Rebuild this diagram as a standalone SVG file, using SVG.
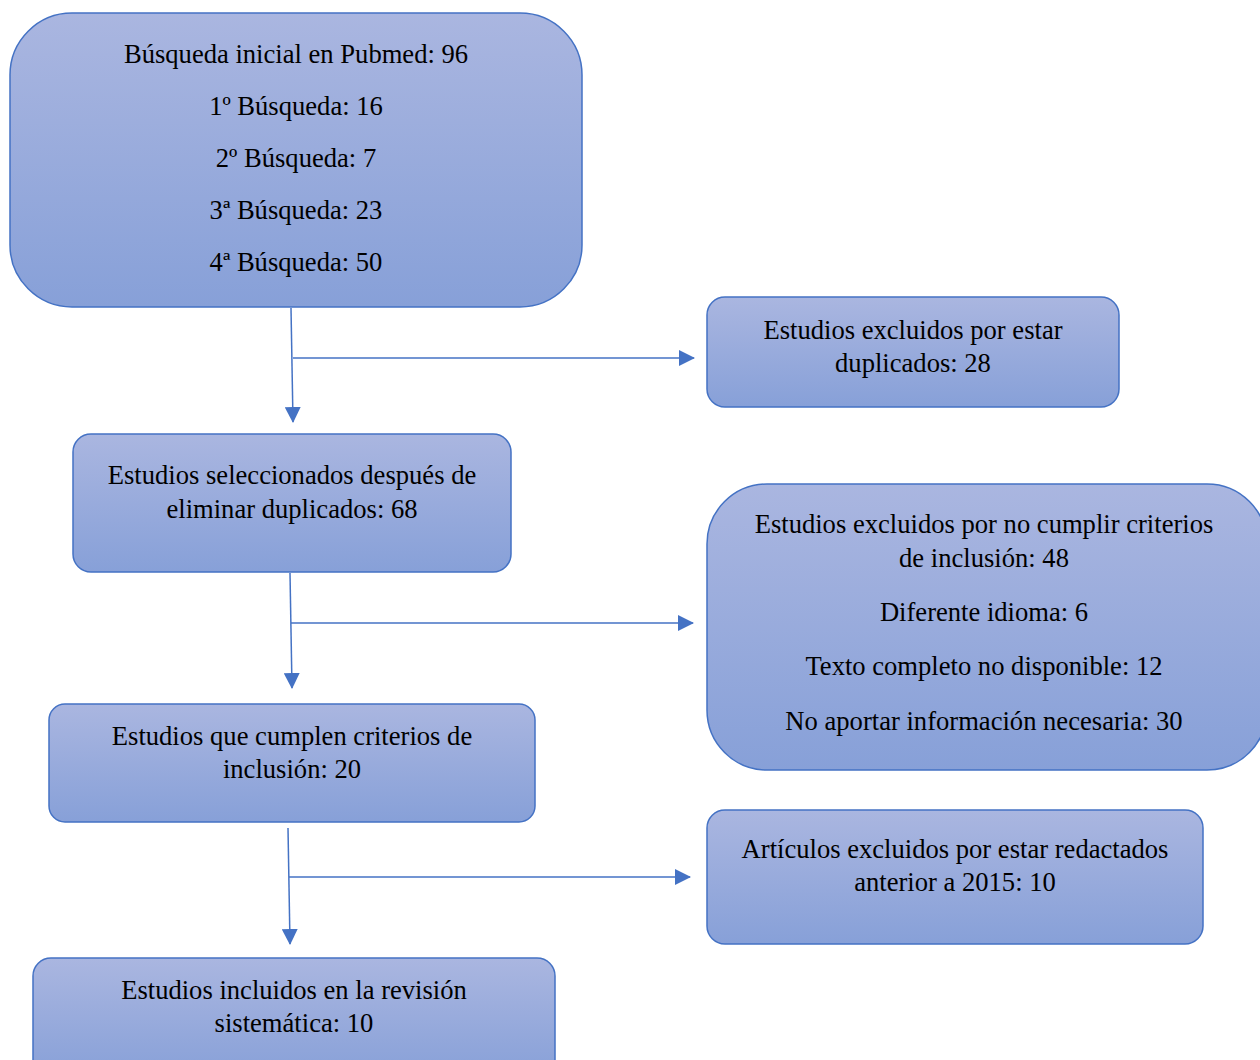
<svg xmlns="http://www.w3.org/2000/svg" width="1260" height="1060" viewBox="0 0 1260 1060">
<defs>
<linearGradient id="g" x1="0" y1="0" x2="0" y2="1">
<stop offset="0" stop-color="#aab6e0"/>
<stop offset="1" stop-color="#87a0d8"/>
</linearGradient>
<marker id="ah" markerWidth="16" markerHeight="16" viewBox="0 0 16 16" refX="15" refY="8" orient="auto" markerUnits="userSpaceOnUse">
<path d="M0,0 L16,8 L0,16 Z" fill="#4472c4"/>
</marker>
<style>
.box{fill:url(#g);stroke:#4472c4;stroke-width:1.5}
.t{font-family:"Liberation Serif","Times New Roman",serif;font-size:26.6px;fill:#000;text-anchor:middle}
.c{stroke:#4472c4;stroke-width:1.5;fill:none}
</style>
</defs>
<rect width="1260" height="1060" fill="#fff"/>
<g id="n1">
<rect class="box" x="10" y="13" width="572" height="294" rx="62"/>
<text class="t" x="296" y="63">Búsqueda inicial en Pubmed: 96</text>
<text class="t" x="296" y="115">1º Búsqueda: 16</text>
<text class="t" x="296" y="167">2º Búsqueda: 7</text>
<text class="t" x="296" y="219">3ª Búsqueda: 23</text>
<text class="t" x="296" y="271">4ª Búsqueda: 50</text>
</g>
<g id="n2">
<rect class="box" x="707" y="297" width="412" height="110" rx="18"/>
<text class="t" x="913" y="339">Estudios excluidos por estar</text>
<text class="t" x="913" y="372">duplicados: 28</text>
</g>
<g id="n3">
<rect class="box" x="73" y="434" width="438" height="138" rx="18"/>
<text class="t" x="292" y="484">Estudios seleccionados después de</text>
<text class="t" x="292" y="518">eliminar duplicados: 68</text>
</g>
<g id="n4">
<rect class="box" x="707" y="484" width="560" height="286" rx="60"/>
<text class="t" x="984" y="533">Estudios excluidos por no cumplir criterios</text>
<text class="t" x="984" y="567">de inclusión: 48</text>
<text class="t" x="984" y="621">Diferente idioma: 6</text>
<text class="t" x="984" y="675">Texto completo no disponible: 12</text>
<text class="t" x="984" y="730">No aportar información necesaria: 30</text>
</g>
<g id="n5">
<rect class="box" x="49" y="704" width="486" height="118" rx="16"/>
<text class="t" x="292" y="745">Estudios que cumplen criterios de</text>
<text class="t" x="292" y="778">inclusión: 20</text>
</g>
<g id="n6">
<rect class="box" x="707" y="810" width="496" height="134" rx="18"/>
<text class="t" x="955" y="858">Artículos excluidos por estar redactados</text>
<text class="t" x="955" y="891">anterior a 2015: 10</text>
</g>
<g id="n7">
<rect class="box" x="33" y="958" width="522" height="120" rx="18"/>
<text class="t" x="294" y="999">Estudios incluidos en la revisión</text>
<text class="t" x="294" y="1032">sistemática: 10</text>
</g>
<g id="connectors">
<path class="c" d="M291,308 L293,422" marker-end="url(#ah)"/>
<path class="c" d="M293,358 L694,358" marker-end="url(#ah)"/>
<path class="c" d="M290,573 L292,688" marker-end="url(#ah)"/>
<path class="c" d="M291,623 L693,623" marker-end="url(#ah)"/>
<path class="c" d="M288,828 L290,944" marker-end="url(#ah)"/>
<path class="c" d="M289,877 L690,877" marker-end="url(#ah)"/>
</g>
</svg>
